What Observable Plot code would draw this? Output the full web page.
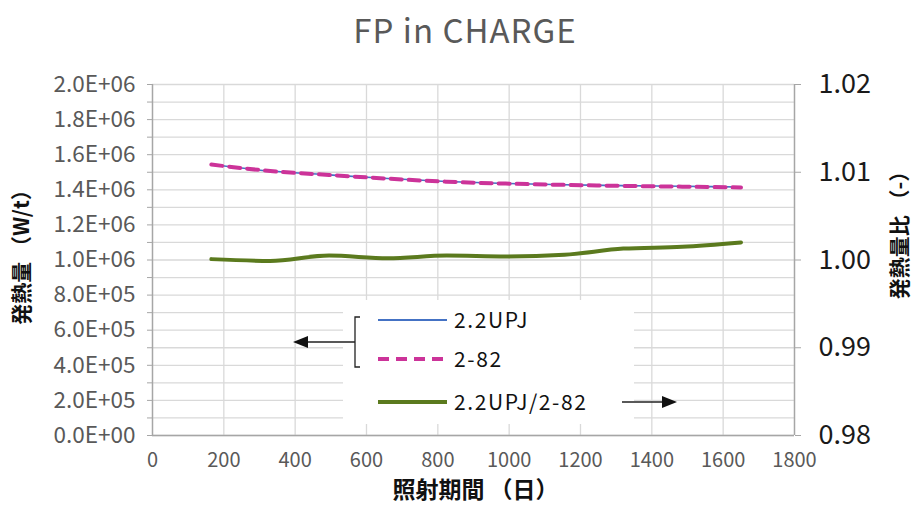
<!DOCTYPE html>
<html><head><meta charset="utf-8">
<script src="https://cdn.jsdelivr.net/npm/d3@7"></script>
<script src="https://cdn.jsdelivr.net/npm/@observablehq/plot@0.6"></script>
<style>
body{margin:0;background:#fff;width:924px;height:517px;overflow:hidden;font-family:"Noto Sans CJK JP",sans-serif}
#title{height:60px;line-height:58px;text-align:center;font-size:33px;color:#595959;letter-spacing:1px;padding-left:6px}
#chart svg{display:block}
</style></head><body>
<div id="title">FP in CHARGE</div>
<div id="chart"></div>
<script>
// ---- data ----
const days = [165, 330, 495, 660, 825, 990, 1155, 1320, 1485, 1650];
const heatUPJ = [1.544e6, 1.507e6, 1.485e6, 1.464e6, 1.447e6, 1.436e6, 1.429e6, 1.424e6, 1.420e6, 1.416e6];
const heat282 = [1.5438e6, 1.5072e6, 1.4843e6, 1.4637e6, 1.4463e6, 1.4354e6, 1.4281e6, 1.4221e6, 1.4179e6, 1.4132e6];
const ratio = [1.0001, 0.9999, 1.0005, 1.0002, 1.0005, 1.0004, 1.0006, 1.0013, 1.0015, 1.0020];

const xTicks = [0, 200, 400, 600, 800, 1000, 1200, 1400, 1600, 1800];
const leftTicks = [0, 2e5, 4e5, 6e5, 8e5, 1e6, 1.2e6, 1.4e6, 1.6e6, 1.8e6, 2e6];
const leftTickLabels = ["0.0E+00","2.0E+05","4.0E+05","6.0E+05","8.0E+05","1.0E+06","1.2E+06","1.4E+06","1.6E+06","1.8E+06","2.0E+06"];
const rightTicks = [0.98, 0.99, 1.00, 1.01, 1.02];
const rightTickLabels = ["0.98", "0.99", "1.00", "1.01", "1.02"];
const seriesNames = ["2.2UPJ", "2-82", "2.2UPJ/2-82"];
const xTitle = "照射期間 （日）";
const yTitle = "発熱量 （W/t）";
const y2Title = "発熱量比 （-）";

// secondary (ratio) axis mapped onto the primary scale
const r0 = 0.98, r1 = 1.02, yMax = 2e6;
const toLeft = r => (r - r0) / (r1 - r0) * yMax;
const nearestLabel = (ticks, labels, map) => v => {
  let bi = 0, bd = Infinity;
  ticks.forEach((t, i) => { const d = Math.abs(map(t) - v); if (d < bd) { bd = d; bi = i; } });
  return labels[bi];
};

const gridColor = "#d9d9d9", axisColor = "#a6a6a6";
const blue = "#4472c4", magenta = "#cc3399", green = "#5b7a1e";

const plot = Plot.plot({
  width: 924, height: 457,
  marginLeft: 152, marginRight: 130, marginTop: 24, marginBottom: 82,
  style: {fontFamily: '"Noto Sans CJK JP", sans-serif', background: "white", overflow: "visible"},
  x: {domain: [0, 1800]},
  y: {domain: [0, yMax]},
  marks: [
    Plot.gridY(d3.range(0, yMax + 1, 1e5), {stroke: gridColor, strokeOpacity: 1, strokeWidth: 1.3}),
    Plot.gridX(xTicks, {stroke: gridColor, strokeOpacity: 1, strokeWidth: 1.3}),
    Plot.ruleX([0, 1800], {stroke: axisColor, strokeWidth: 1.4}),
    Plot.ruleY([0], {stroke: axisColor, strokeWidth: 1.4}),
    Plot.axisY(d3.range(0, yMax + 1, 1e5), {anchor: "left", tickSize: 5, tickFormat: () => "", stroke: axisColor, label: null}),
    Plot.axisY(leftTicks, {anchor: "left", tickSize: 0, tickPadding: 17, label: null,
      tickFormat: nearestLabel(leftTicks, leftTickLabels, t => t), fill: "#595959", fontSize: 22.5}),
    Plot.axisY(rightTicks.map(toLeft), {anchor: "right", tickSize: 6, tickPadding: 18, label: null, stroke: axisColor,
      tickFormat: nearestLabel(rightTicks, rightTickLabels, toLeft), fill: "#1a1a1a", fontSize: 27}),
    Plot.axisX(xTicks, {anchor: "bottom", tickSize: 0, tickPadding: 17, label: null,
      tickFormat: d => String(d), fill: "#595959", fontSize: 20}),
    Plot.lineY(heatUPJ, {x: days, stroke: blue, strokeWidth: 1.6, curve: "monotone-x"}),
    Plot.lineY(heat282, {x: days, stroke: magenta, strokeWidth: 4, strokeDasharray: "11,7", curve: "monotone-x"}),
    Plot.lineY(ratio.map(toLeft), {x: days, stroke: green, strokeWidth: 4, curve: "monotone-x"}),
    Plot.text([xTitle], {frameAnchor: "bottom", dy: 62, dx: 2, fontSize: 23, fontWeight: "bold", fill: "#111", textAnchor: "middle"}),
    Plot.text([yTitle], {frameAnchor: "left", dx: -130, dy: -8, rotate: -90, textAnchor: "middle", fontSize: 21, fontWeight: "bold", fill: "#111"}),
    Plot.text([y2Title], {frameAnchor: "right", dx: 106, dy: -30, rotate: -90, textAnchor: "middle", fontSize: 21, fontWeight: "bold", fill: "#111"})
  ]
});
document.getElementById("chart").appendChild(plot);

// ---- legend box with bracket and arrows (pixel layout) ----
const svg = d3.select(plot);
const lg = svg.append("g").attr("font-family", '"Noto Sans CJK JP", sans-serif').attr("text-anchor", "start");
lg.append("rect").attr("x", 343).attr("y", 240).attr("width", 291).attr("height", 124).attr("fill", "white");
const rows = [
  {name: seriesNames[0], y: 260, stroke: blue, w: 1.8, dash: null},
  {name: seriesNames[1], y: 299, stroke: magenta, w: 4, dash: "11,7"},
  {name: seriesNames[2], y: 342, stroke: green, w: 4, dash: null}
];
rows.forEach(r => {
  lg.append("line").attr("x1", 378).attr("x2", 447).attr("y1", r.y).attr("y2", r.y)
    .attr("stroke", r.stroke).attr("stroke-width", r.w).attr("stroke-dasharray", r.dash);
  lg.append("text").attr("x", 454).attr("y", r.y).attr("dy", "0.36em").attr("text-anchor", "start")
    .attr("font-size", 21).attr("letter-spacing", "1.6px").attr("fill", "#111").text(r.name);
});
// bracket
lg.append("path").attr("d", "M360,257 L355,257 L355,307 L360,307 M355,282 L300,282")
  .attr("fill", "none").attr("stroke", "#222").attr("stroke-width", 1.3);
lg.append("path").attr("d", "M293,282 L308,276 L308,288 Z").attr("fill", "#111");
// right arrow
lg.append("path").attr("d", "M622,342 L664,342").attr("stroke", "#222").attr("stroke-width", 1.3);
lg.append("path").attr("d", "M677,342 L662,336 L662,348 Z").attr("fill", "#111");
</script>
</body></html>
